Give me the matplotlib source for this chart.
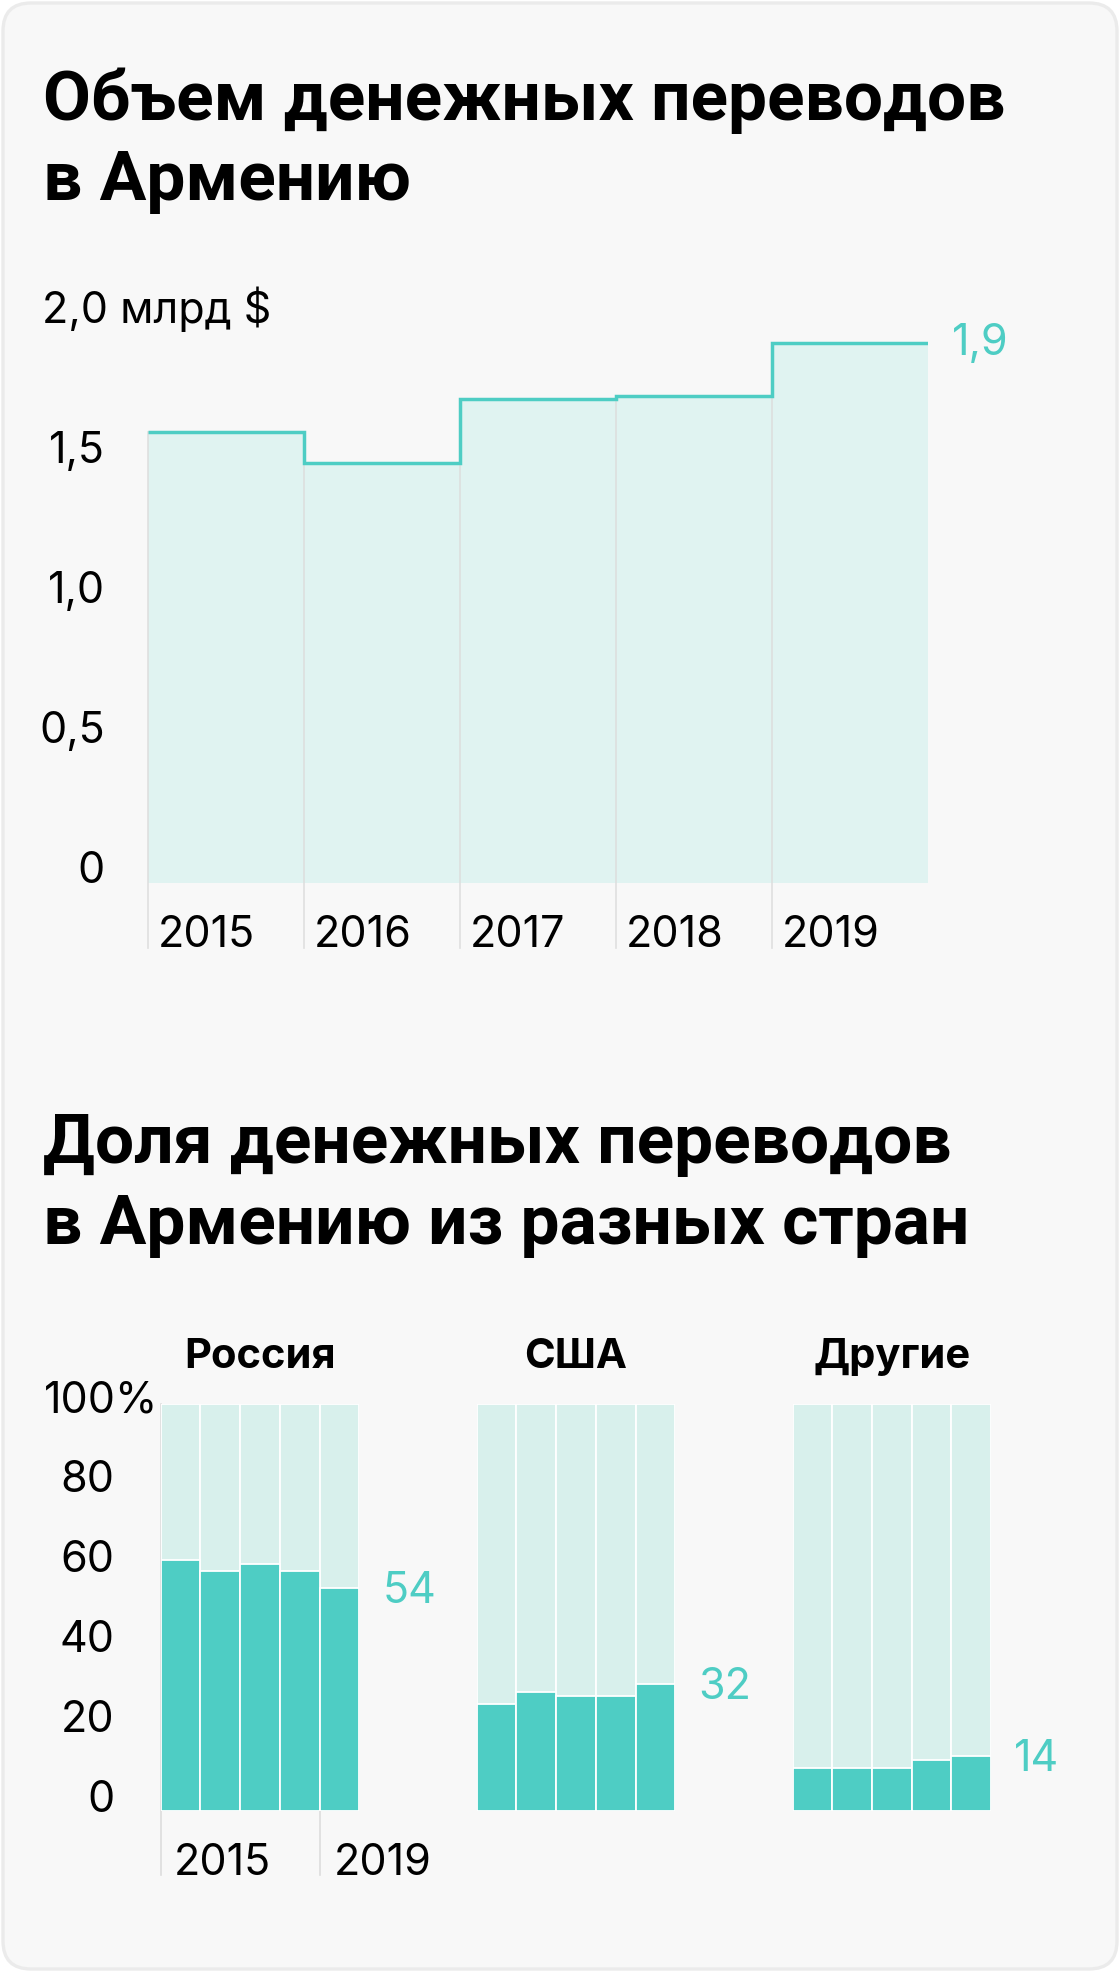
import matplotlib
matplotlib.use("Agg")
import matplotlib.pyplot as plt
from matplotlib.patches import FancyBboxPatch
from matplotlib.transforms import IdentityTransform

# размеры картинки в пикселях
W, H = 1120, 1972
DPI = 100

# данные: объем переводов, млрд $
years = ["2015", "2016", "2017", "2018", "2019"]
volume = [1.61, 1.50, 1.73, 1.74, 1.93]
volume_last_label = "1,9"
vol_ticks = [0, 0.5, 1.0, 1.5, 2.0]
vol_tick_labels = ["0", "0,5", "1,0", "1,5", "2,0 млрд $"]

# данные: доля переводов по странам, %
countries = ["Россия", "США", "Другие"]
share_russia = [61.7, 58.9, 60.8, 58.9, 54.8]
share_usa = [26.4, 29.3, 28.3, 28.3, 31.2]
share_other = [10.6, 10.6, 10.6, 12.5, 13.5]
share_last_labels = ["54", "32", "14"]
share_ticks = [0, 20, 40, 60, 80, 100]
share_tick_labels = ["0", "20", "40", "60", "80", "100%"]

TEAL = "#4ecdc4"
LIGHT = "#d8f0ec"
FILL = "#e0f3f1"
GRID = "#dddddd"
TITLE_FONT = ["Roboto", "DejaVu Sans"]
LABEL_FONT = ["Inter", "Roboto", "DejaVu Sans"]

plt.rcParams["font.family"] = LABEL_FONT
FS = 31


def px_axes(fig, left, top, right, bottom):
    a = fig.add_axes([left / W, 1 - bottom / H, (right - left) / W, (bottom - top) / H])
    a.set_zorder(1)
    return a


fig = plt.figure(figsize=(W / DPI, H / DPI), dpi=DPI)
fig.patch.set_facecolor("white")

# фон-карточка со скругленными углами
card = FancyBboxPatch((3, 3), W - 6, H - 6, boxstyle="round,pad=0,rounding_size=28",
                      facecolor="#f8f8f8", edgecolor="#ebebeb", linewidth=2.4,
                      transform=IdentityTransform(), zorder=-5)
fig.patches.append(card)

# заголовки
def title(lines, baselines):
    for line, b in zip(lines, baselines):
        fig.text(43 / W, 1 - b / H, line, fontsize=50, fontweight="bold",
                 family=TITLE_FONT, ha="left", va="baseline", color="black")

title(["Объем денежных переводов", "в Армению"], [120, 200])
title(["Доля денежных переводов", "в Армению из разных стран"], [1163, 1244])

# ---- верхний график: ступенчатая линия ----
ax = px_axes(fig, 148, 323.3, 928, 883.3)
ax.set_xlim(0, 5)
ax.set_ylim(0, 2)
ax.axis("off")
edges = list(range(len(years) + 1))
ax.stairs(volume, edges, baseline=0, fill=True, color=FILL, zorder=1)
for i, y in enumerate(years):
    ax.plot([i, i], [-0.23, volume[i]], color=GRID, lw=1.2, zorder=2, clip_on=False, alpha=0.9)
    ax.annotate(y, (i, 0), xytext=(10, -64), textcoords="offset pixels",
                ha="left", va="baseline", fontsize=FS, color="black", annotation_clip=False)
ax.stairs(volume, edges, baseline=None, color=TEAL, lw=2.5, zorder=3)
ax.annotate(volume_last_label, (5, volume[-1]), xytext=(24, -12), textcoords="offset pixels",
            ha="left", va="baseline", fontsize=FS, color=TEAL, annotation_clip=False)
for t, lab in zip(vol_ticks, vol_tick_labels):
    if t == vol_ticks[-1]:
        ax.annotate(lab, (0, t), xytext=(-106, 0), textcoords="offset pixels",
                    ha="left", va="baseline", fontsize=FS, color="black", annotation_clip=False)
    else:
        ax.annotate(lab, (0, t), xytext=(-43, 0), textcoords="offset pixels",
                    ha="right", va="baseline", fontsize=FS, color="black", annotation_clip=False)

# ---- нижние графики: доли по странам ----
shares = [share_russia, share_usa, share_other]
lefts = [160.7, 476.7, 792.5]
xs = [i + 0.5 for i in range(len(years))]
for k, (name, vals, left) in enumerate(zip(countries, shares, lefts)):
    a = px_axes(fig, left, 1404.3, left + 198.5, 1811)
    a.set_xlim(0, 5)
    a.set_ylim(0, 100)
    a.axis("off")
    a.bar(xs, [100] * len(vals), width=1, color=LIGHT, edgecolor="white", lw=1.3, zorder=2)
    a.bar(xs, vals, width=1, color=TEAL, edgecolor="white", lw=1.3, zorder=3)
    a.annotate(name, (2.5, 100), xytext=(0, 36), textcoords="offset pixels",
               ha="center", va="baseline", fontsize=30, fontweight="bold",
               color="black", annotation_clip=False)
    a.annotate(share_last_labels[k], (5, vals[-1]), xytext=(23, -15), textcoords="offset pixels",
               ha="left", va="baseline", fontsize=FS, color=TEAL, annotation_clip=False)
    if k == 0:
        a.plot([0, 0], [-15.7, 100], color=GRID, lw=1.2, zorder=1, clip_on=False)
        a.plot([4, 4], [-15.7, 0], color=GRID, lw=1.2, zorder=1, clip_on=False)
        for xi, off in [(0, 13), (4, 14)]:
            a.annotate(years[xi], (xi, 0), xytext=(off, -64), textcoords="offset pixels",
                       ha="left", va="baseline", fontsize=FS, color="black",
                       annotation_clip=False)
        for t, lab in zip(share_ticks, share_tick_labels):
            dy = -(1 + 0.07 * t)
            if t == share_ticks[-1]:
                a.annotate(lab, (0, t), xytext=(-117, dy), textcoords="offset pixels",
                           ha="left", va="baseline", fontsize=FS, color="black",
                           annotation_clip=False)
            else:
                a.annotate(lab, (0, t), xytext=(-46, dy), textcoords="offset pixels",
                           ha="right", va="baseline", fontsize=FS, color="black",
                           annotation_clip=False)

fig.savefig("out.png", dpi=DPI, facecolor=fig.get_facecolor())
